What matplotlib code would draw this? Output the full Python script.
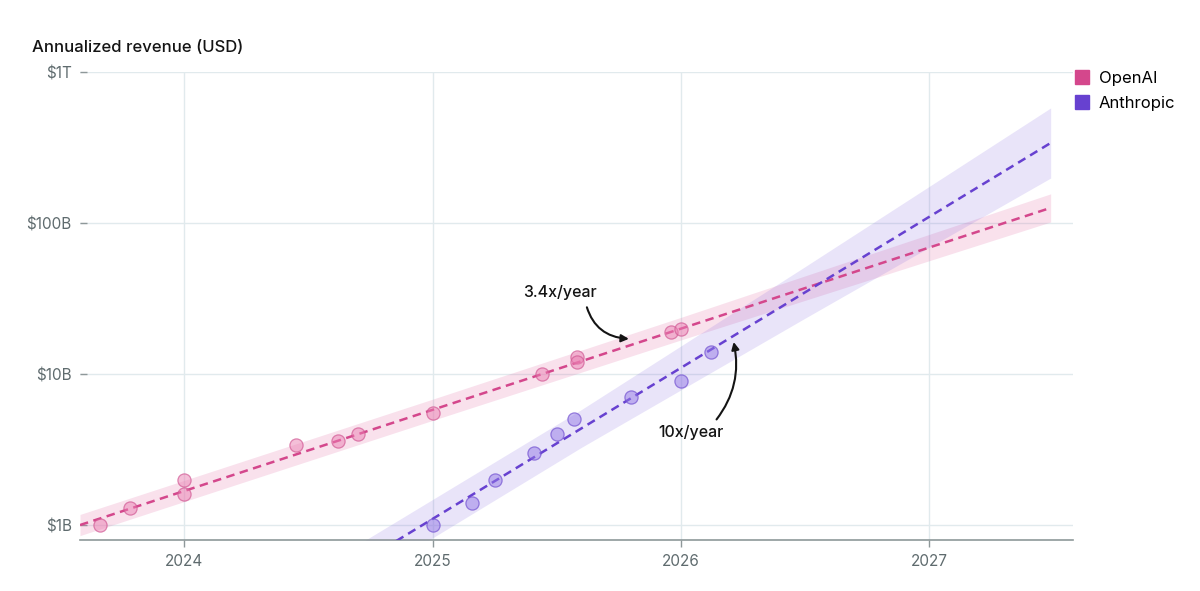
import matplotlib.pyplot as plt
from matplotlib.lines import Line2D

plt.rcParams['font.family'] = ['Inter', 'DejaVu Sans']

# data (x in decimal years, revenue in $B)
openai_dates = [2023.66, 2023.78, 2024.0, 2024.0, 2024.45, 2024.62, 2024.70,
                2025.0, 2025.44, 2025.58, 2025.58, 2025.96, 2026.0]
openai_rev = [1.0, 1.3, 2.0, 1.6, 3.4, 3.6, 4.0, 5.5, 10, 13, 12, 19, 20]

anthropic_dates = [2025.0, 2025.16, 2025.25, 2025.41, 2025.50, 2025.57,
                   2025.80, 2026.0, 2026.12]
anthropic_rev = [1.0, 1.4, 2.0, 3.0, 4.0, 5.0, 7.0, 9.0, 14.0]

# trend lines (end points) and shaded bands
openai_trend_t = [2023.58, 2027.49]
openai_trend = [1.0, 126]
openai_band_t = [2023.58, 2025.0, 2026.0, 2027.49]
openai_band_lo = [0.851, 4.93, 16.8, 101.6]
openai_band_hi = [1.175, 6.81, 23.7, 156]

anthropic_trend_t = [2024.5, 2027.49]
anthropic_trend = [0.347, 339]
anthropic_band_t = [2024.5, 2025.6, 2026.5, 2027.49]
anthropic_band_lo = [0.26, 3.27, 23.4, 198.6]
anthropic_band_hi = [0.47, 5.82, 51.3, 578]

year_ticks = [2024, 2025, 2026, 2027]
y_ticks = [1, 10, 100, 1000]
y_labels = ['$1B', '$10B', '$100B', '$1T']

# annotations: (label, text position, arrow tip)
notes = [('3.4x/year', (2025.514, 34.4), (2025.791, 17.1)),
         ('10x/year', (2026.04, 4.07), (2026.213, 16.3))]

pink = '#D4478C'
purple = '#6741D0'
grey = '#5F6B6E'

fig = plt.figure(figsize=(12, 5.91), dpi=100)
ax = fig.add_axes([80 / 1200, 51 / 591, 993 / 1200, 468 / 591])

ax.fill_between(openai_band_t, openai_band_lo, openai_band_hi,
                color='#E0609F', alpha=0.19, lw=0, zorder=1)
ax.fill_between(anthropic_band_t, anthropic_band_lo, anthropic_band_hi,
                color='#7D5FE0', alpha=0.17, lw=0, zorder=1)

ax.plot(openai_trend_t, openai_trend, color=pink, lw=1.8,
        dashes=(3.4, 2.2), zorder=3)
ax.plot(anthropic_trend_t, anthropic_trend, color=purple, lw=1.8,
        dashes=(3.4, 2.2), zorder=3)

ax.scatter(openai_dates, openai_rev, s=90, facecolor=(0.92, 0.50, 0.70, 0.5),
           edgecolor=(0.82, 0.35, 0.58, 0.7), lw=0.9, zorder=4)
ax.scatter(anthropic_dates, anthropic_rev, s=90, facecolor=(0.58, 0.48, 0.90, 0.5),
           edgecolor=(0.45, 0.32, 0.82, 0.7), lw=0.9, zorder=4)

for label, txt_xy, tip_xy in notes:
    if label.startswith('3'):
        relpos, rad = (0.84, 0.0), 0.38
    else:
        relpos, rad = (0.82, 1.0), 0.25
    ax.annotate(label, xy=tip_xy, xytext=txt_xy, ha='center', va='center',
                fontsize=11.5, fontweight=500, color='#141414', zorder=6,
                arrowprops=dict(arrowstyle='-|>', color='#141414', lw=1.5,
                                mutation_scale=11, shrinkA=3, shrinkB=0,
                                relpos=relpos,
                                connectionstyle='arc3,rad=%s' % rad))

ax.set_yscale('log')
ax.set_ylim(0.796, 1000)
ax.set_xlim(2023.58, 2027.58)
ax.set_yticks(y_ticks)
ax.set_yticklabels(y_labels)
ax.minorticks_off()
ax.set_xticks(year_ticks)
ax.set_xticklabels([str(y) for y in year_ticks])

ax.grid(True, color='#E1EAED', lw=1, zorder=0)
ax.set_axisbelow(True)
for side in ['top', 'right', 'left']:
    ax.spines[side].set_visible(False)
ax.spines['bottom'].set_color('#8E9899')
ax.spines['bottom'].set_linewidth(1.2)
ax.tick_params(axis='y', direction='in', length=5, width=1, color='#8E9899',
               labelsize=11, labelcolor=grey, pad=6)
ax.tick_params(axis='x', direction='out', length=5, width=1, color='#8E9899',
               labelsize=11, labelcolor=grey, pad=5)

fig.text(32 / 1200, 1 - 47 / 591, 'Annualized revenue (USD)', fontsize=12,
         fontweight=500, color='#141414', va='center', ha='left')

handles = [Line2D([], [], marker='s', ls='', markersize=9.5, color=pink),
           Line2D([], [], marker='s', ls='', markersize=9.5, color=purple)]
fig.legend(handles, ['OpenAI', 'Anthropic'], loc='upper left',
           bbox_to_anchor=(1074 / 1200, 1 - 71 / 591), frameon=False,
           fontsize=12, handlelength=1.0, handletextpad=0.5,
           labelspacing=0.6, borderpad=0, borderaxespad=0)

fig.savefig('out.png', dpi=100)
